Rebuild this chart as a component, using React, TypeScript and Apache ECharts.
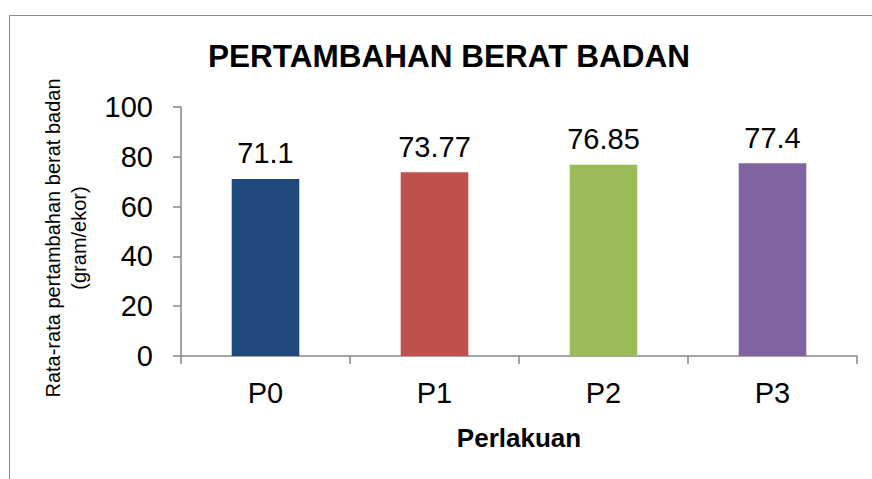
import React, { useEffect, useRef } from "react";
import * as echarts from "echarts";

const categories = ["P0", "P1", "P2", "P3"];
const values = [71.1, 73.77, 76.85, 77.4];
const barColors = ["#1F497D", "#C0504D", "#9BBB59", "#8064A2"];
const titleText = "PERTAMBAHAN BERAT BADAN";
const yAxisName = "Rata-rata pertambahan berat badan\n(gram/ekor)";
const xAxisName = "Perlakuan";

const FONT = "'Liberation Sans', Arial, sans-serif";
const AXIS_COLOR = "#868686";

export default function App() {
  const ref = useRef<HTMLDivElement>(null);
  useEffect(() => {
    if (!ref.current) return;
    const chart = echarts.init(ref.current, null, { renderer: "svg" });
    chart.setOption({
      animation: false,
      backgroundColor: "#ffffff",
      textStyle: { fontFamily: FONT },
      graphic: [
        {
          type: "rect",
          shape: { x: 9.5, y: 15.5, width: 1000, height: 600 },
          style: { fill: "none", stroke: "#898989", lineWidth: 1 },
          silent: true,
        },
        {
          type: "text",
          x: 66,
          y: 238,
          rotation: Math.PI / 2,
          silent: true,
          style: {
            text: yAxisName,
            fontFamily: FONT,
            fontSize: 20,
            lineHeight: 26,
            fill: "#000",
            align: "center",
            verticalAlign: "middle",
          },
        },
      ],
      title: {
        text: titleText,
        left: 444,
        top: 35,
        textAlign: "center",
        textStyle: { fontFamily: FONT, fontSize: 31.5, fontWeight: "bold", color: "#000" },
      },
      grid: { left: 181, right: 15, top: 107, bottom: 123 },
      xAxis: {
        type: "category",
        data: categories,
        boundaryGap: true,
        name: xAxisName,
        nameLocation: "middle",
        nameGap: 69,
        nameTextStyle: { fontFamily: FONT, fontSize: 26, fontWeight: "bold", color: "#000" },
        axisLine: { show: true, lineStyle: { color: AXIS_COLOR, width: 1.5 } },
        axisTick: { show: true, length: 8, alignWithLabel: false, lineStyle: { color: AXIS_COLOR, width: 1.5 } },
        axisLabel: { fontFamily: FONT, fontSize: 29, color: "#000", margin: 22 },
        splitLine: { show: false },
      },
      yAxis: {
        type: "value",
        min: 0,
        max: 100,
        interval: 20,
        axisLine: { show: true, lineStyle: { color: AXIS_COLOR, width: 1.5 } },
        axisTick: { show: true, length: 8, lineStyle: { color: AXIS_COLOR, width: 1.5 } },
        axisLabel: { fontFamily: FONT, fontSize: 29, color: "#000", margin: 28 },
        splitLine: { show: false },
      },
      series: [
        {
          type: "bar",
          data: values.map((v, i) => ({ value: v, itemStyle: { color: barColors[i] } })),
          barWidth: "40%",
          label: {
            show: true,
            position: "top",
            distance: 11,
            fontFamily: FONT,
            fontSize: 29,
            color: "#000",
          },
        },
      ],
    });
    return () => chart.dispose();
  }, []);
  return (
    <div
      ref={ref}
      style={{ position: "fixed", left: 0, top: 0, width: 872, height: 479 }}
    />
  );
}
